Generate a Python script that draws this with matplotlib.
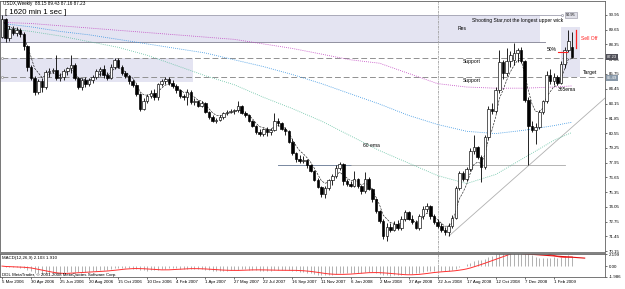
import matplotlib
matplotlib.use('Agg')
import matplotlib.pyplot as plt
import matplotlib.patches as mpatches
import numpy as np
import pandas as pd

plt.rcParams['font.family'] = ['Liberation Sans', 'DejaVu Sans']

# weekly USDX candles, 5 Mar 2006 .. 8 Mar 2009
opens = [89.05, 90.60, 88.90, 89.75, 89.40, 89.65, 89.25, 88.20,
         86.35, 85.40, 84.20, 85.10, 84.60, 85.90, 86.00, 86.10,
         85.40, 85.50, 86.00, 86.30, 86.50, 85.40, 84.60, 85.20,
         84.90, 85.20, 85.50, 86.00, 86.20, 85.70, 85.40, 86.40,
         87.00, 86.40, 85.80, 85.60, 85.10, 84.80, 84.00, 82.70,
         83.40, 83.80, 84.10, 83.70, 84.90, 85.10, 85.30, 85.00,
         84.70, 84.30, 83.80, 83.70, 84.20, 83.30, 83.40, 82.90,
         83.20, 82.40, 82.00, 81.60, 81.70, 82.00, 82.30, 82.40,
         82.50, 82.60, 82.90, 82.30, 82.10, 81.60, 81.20, 80.60,
         80.50, 80.90, 80.60, 80.80, 81.60, 81.40, 80.90, 80.70,
         79.80, 78.80, 78.30, 78.10, 78.20, 77.70, 77.20, 76.40,
         75.80, 75.20, 75.70, 76.40, 76.80, 77.50, 77.80, 76.30,
         76.10, 75.90, 76.50, 75.90, 75.40, 76.50, 75.60, 74.70,
         73.70, 72.80, 71.50, 72.30, 72.00, 72.50, 72.20, 73.00,
         73.60, 73.00, 72.70, 72.20, 73.20, 73.90, 74.10, 73.20,
         72.70, 72.40, 72.00, 71.80, 72.40, 73.10, 75.70, 77.00,
         76.50, 77.40, 79.00, 79.30, 78.40, 77.60, 80.20, 82.70,
         82.50, 84.30, 86.80, 85.80, 86.90, 87.00, 87.60, 87.90,
         86.90, 83.50, 81.20, 80.80, 81.10, 82.40, 83.40, 85.70,
         85.10, 85.50, 85.00, 86.60, 87.90, 88.15]
highs = [90.95, 90.70, 89.95, 90.00, 89.85, 89.80, 89.45, 88.30,
         86.50, 85.60, 85.30, 85.40, 86.10, 86.30, 86.30, 87.40,
         85.80, 86.20, 86.40, 87.40, 86.70, 85.50, 85.40, 85.50,
         85.40, 85.70, 86.20, 86.40, 86.50, 85.90, 86.60, 87.20,
         87.20, 86.50, 86.00, 85.70, 85.30, 84.90, 84.10, 83.60,
         84.00, 84.30, 84.40, 85.00, 85.30, 85.50, 85.50, 85.20,
         84.90, 84.40, 84.00, 84.40, 84.30, 83.60, 83.50, 83.40,
         83.30, 82.50, 82.10, 81.90, 82.10, 82.40, 82.60, 82.70,
         82.70, 83.40, 83.00, 82.50, 82.20, 81.70, 81.30, 80.90,
         81.00, 81.10, 81.00, 82.30, 81.90, 81.50, 81.10, 80.80,
         80.00, 78.90, 78.60, 78.50, 78.30, 77.80, 77.30, 76.60,
         75.90, 75.90, 76.50, 76.90, 77.70, 78.00, 77.90, 76.50,
         76.30, 77.20, 76.60, 76.00, 77.10, 76.70, 75.70, 74.80,
         73.80, 73.00, 72.60, 72.60, 72.80, 72.90, 73.20, 73.80,
         73.70, 73.30, 72.90, 73.40, 74.10, 74.40, 74.20, 73.40,
         73.00, 72.60, 72.30, 72.60, 73.30, 75.90, 77.20, 77.20,
         77.60, 79.20, 80.40, 79.40, 78.60, 80.40, 82.90, 83.20,
         84.60, 87.90, 87.00, 88.00, 87.80, 88.46, 88.00, 88.10,
         87.00, 83.70, 81.60, 81.40, 82.60, 83.50, 86.00, 86.20,
         85.80, 85.70, 86.90, 88.10, 89.62, 89.43]
lows = [88.90, 88.60, 88.70, 89.20, 89.10, 89.00, 87.90, 86.00,
        85.20, 83.90, 84.00, 84.20, 84.40, 85.50, 85.80, 85.20,
        85.10, 85.20, 85.70, 85.80, 85.20, 84.40, 84.30, 84.60,
        84.70, 85.00, 85.30, 85.60, 85.40, 85.20, 85.30, 86.20,
        86.30, 85.70, 85.40, 84.90, 84.60, 83.80, 82.50, 82.60,
        83.20, 83.60, 83.50, 83.50, 84.70, 84.90, 84.80, 84.50,
        84.10, 83.60, 83.50, 83.00, 83.10, 83.00, 82.80, 82.80,
        82.30, 81.80, 81.50, 81.40, 81.60, 81.80, 82.10, 82.30,
        82.20, 82.40, 82.20, 82.00, 81.50, 81.10, 80.50, 80.30,
        80.30, 80.30, 80.40, 80.70, 81.20, 80.80, 80.40, 79.70,
        78.60, 78.00, 77.90, 77.90, 77.50, 77.10, 76.30, 75.70,
        74.90, 74.80, 75.50, 76.00, 76.60, 77.30, 76.00, 75.90,
        75.80, 75.80, 75.70, 75.20, 75.30, 75.50, 74.50, 73.50,
        72.60, 71.20, 71.00, 71.80, 71.90, 72.00, 72.00, 72.80,
        72.90, 72.50, 72.10, 72.00, 73.00, 73.60, 73.00, 72.50,
        72.20, 71.80, 71.60, 71.50, 72.20, 73.00, 75.50, 76.30,
        76.30, 77.20, 78.70, 78.30, 76.20, 77.40, 80.00, 82.20,
        82.30, 84.10, 85.30, 85.60, 86.40, 86.50, 86.80, 86.70,
        83.30, 77.70, 80.60, 79.60, 80.90, 82.20, 83.20, 84.90,
        84.80, 84.80, 84.90, 86.30, 87.70, 87.16]
closes = [90.60, 88.90, 89.75, 89.40, 89.65, 89.25, 88.20, 86.35,
          85.40, 84.20, 85.10, 84.60, 85.90, 86.00, 86.10, 85.40,
          85.50, 86.00, 86.30, 86.50, 85.40, 84.60, 85.20, 84.90,
          85.20, 85.50, 86.00, 86.20, 85.70, 85.40, 86.40, 87.00,
          86.40, 85.80, 85.60, 85.10, 84.80, 84.00, 82.70, 83.40,
          83.80, 84.10, 83.70, 84.90, 85.10, 85.30, 85.00, 84.70,
          84.30, 83.80, 83.70, 84.20, 83.30, 83.40, 82.90, 83.20,
          82.40, 82.00, 81.60, 81.70, 82.00, 82.30, 82.40, 82.50,
          82.60, 82.90, 82.30, 82.10, 81.60, 81.20, 80.60, 80.50,
          80.90, 80.60, 80.80, 81.60, 81.40, 80.90, 80.70, 79.80,
          78.80, 78.30, 78.10, 78.20, 77.70, 77.20, 76.40, 75.80,
          75.20, 75.70, 76.40, 76.80, 77.50, 77.80, 76.30, 76.10,
          75.90, 76.50, 75.90, 75.40, 76.50, 75.60, 74.70, 73.70,
          72.80, 71.50, 72.30, 72.00, 72.50, 72.20, 73.00, 73.60,
          73.00, 72.70, 72.20, 73.20, 73.90, 74.10, 73.20, 72.70,
          72.40, 72.00, 71.80, 72.40, 73.10, 75.70, 77.00, 76.50,
          77.40, 79.00, 79.30, 78.40, 77.60, 80.20, 82.70, 82.50,
          84.30, 86.80, 85.80, 86.90, 87.40, 87.60, 87.90, 86.90,
          83.50, 81.20, 80.80, 81.10, 82.40, 83.40, 85.70, 85.10,
          85.50, 85.00, 86.60, 87.90, 88.70, 87.23]

# moving averages read at every 8th week
ma_weeks = [0, 8, 16, 24, 32, 40, 48, 56, 64, 72, 80, 88, 96, 104,
            112, 120, 128, 136, 144, 152, 157]
ema60 = [89.8, 89.5, 89.1, 88.6, 88.1, 87.4, 86.5, 85.6, 84.8, 83.7,
         82.7, 81.6, 80.3, 79.0, 77.9, 76.8, 76.1, 76.9, 78.4, 79.9, 80.6]
ema_blue = [90.2, 89.9, 89.5, 89.2, 88.8, 88.4, 88.0, 87.6, 87.0, 86.4,
            85.7, 84.9, 84.0, 83.1, 82.1, 81.3, 80.7, 80.5, 80.8, 81.2, 81.5]
ema365 = [90.3, 90.2, 90.0, 89.8, 89.6, 89.4, 89.2, 89.0, 88.8, 88.4,
          88.0, 87.5, 87.0, 86.7, 85.8, 84.9, 84.6, 84.5, 84.5, 84.6, 84.7]

price_ticks = [90.95, 89.65, 88.35, 87.05, 85.75, 84.45, 83.15, 81.85,
               80.55, 79.25, 77.95, 76.65, 75.35, 74.05, 72.75, 71.45, 70.15]
date_labels = ['5 Mar 2006', '30 Apr 2006', '25 Jun 2006', '20 Aug 2006',
               '15 Oct 2006', '10 Dec 2006', '4 Feb 2007', '1 Apr 2007',
               '27 May 2007', '22 Jul 2007', '16 Sep 2007', '11 Nov 2007',
               '6 Jan 2008', '2 Mar 2008', '27 Apr 2008', '22 Jun 2008',
               '17 Aug 2008', '12 Oct 2008', '7 Dec 2008', '1 Feb 2009']

W, H = 625, 289
fig = plt.figure(figsize=(W / 100, H / 100), dpi=100)
ax = fig.add_axes([0, 36 / H, 605 / W, 252 / H])
ax2 = fig.add_axes([0, 12 / H, 605 / W, 23 / H])

x = np.arange(len(closes))
o = np.array(opens); c = np.array(closes)
hi = np.array(highs); lo = np.array(lows)
up = c >= o

# zones and drawn objects (behind the candles)
zone = '#e4e4f2'
ax.add_patch(mpatches.Rectangle((-1, 88.57), 149.2, 2.38, color=zone, lw=0, zorder=0))
ax.add_patch(mpatches.Rectangle((-1, 85.05), 53.6, 2.11, color=zone, lw=0, zorder=0))
ax.add_patch(mpatches.Rectangle((154, 85.49), 5.2, 4.4, color=zone, lw=0, zorder=0))
ax.plot([-1, 154.3], [90.95, 90.95], color='#a0a0b0', lw=0.6, zorder=1)
ax.plot([154.3], [90.95], 'o', ms=1.5, mfc='white', mec='#808090', mew=0.4, zorder=2)
ax.plot([-1, 149.6], [88.57, 88.57], color='#9090a0', lw=0.7, zorder=1)
for lvl in [87.16, 85.49]:
    ax.plot([0, 166.1], [lvl, lvl], color='#909090', lw=0.7, ls=(0, (6, 3)), zorder=1)
    ax.plot([0], [lvl], 'o', ms=1.5, mfc='white', mec='#808080', mew=0.4, zorder=2)
ax.axvline(120, color='#a0a0a0', lw=0.6, ls=(0, (3, 1, 1, 1)), zorder=1)
ax2.axvline(120, color='#a0a0a0', lw=0.6, ls=(0, (3, 1, 1, 1)), zorder=1)
ax.plot([76, 96], [77.75, 77.75], color='#7888a0', lw=0.7, zorder=1)
ax.plot([96, 155.1], [77.75, 77.75], color='#a8a8a8', lw=0.6, zorder=1)
ax.plot([123.1, 166.1], [71.48, 83.63], color='#b0b0b0', lw=0.6, zorder=1)

# moving averages
ax.plot(ma_weeks, ema365, color='#c040c0', lw=0.6, ls=(0, (1, 1.5)), zorder=2)
ax.plot(ma_weeks, ema_blue, color='#3090e0', lw=0.6, ls=(0, (1, 1.5)), zorder=2)
ax.plot(ma_weeks, ema60, color='#60c0a0', lw=0.6, ls=(0, (1, 1.5)), zorder=2)
short_ema = pd.Series(closes).ewm(span=5, adjust=False).mean()
ax.plot(x, short_ema, color='black', lw=0.4, ls=(0, (4, 2)), zorder=2)

# candles
ax.vlines(x, lo, hi, color='black', lw=0.6, zorder=3)
body = np.maximum(np.abs(c - o), 0.04)
ax.bar(x[up], body[up], bottom=np.minimum(o, c)[up], width=0.7,
       color='white', edgecolor='black', lw=0.45, zorder=4)
ax.bar(x[~up], body[~up], bottom=np.minimum(o, c)[~up], width=0.7,
       color='black', edgecolor='black', lw=0.45, zorder=4)

# annotations
fs = 3.6
ax.text(125.6, 89.72, 'Res', fontsize=fs, va='center')
ax.text(129.5, 90.42, 'Shooting Star,not the longest upper wick', fontsize=fs, va='center')
ax.text(127, 86.81, 'Support', fontsize=fs, va='center')
ax.text(127, 85.14, 'Support', fontsize=fs, va='center')
ax.text(160, 85.84, 'Target', fontsize=fs, va='center')
ax.text(159.6, 88.84, 'Sell Off', fontsize=fs, va='center', color='#ff2020')
ax.text(150.2, 87.95, '50%', fontsize=fs, va='center')
ax.plot([153.2, 155.7], [87.69, 87.69], color='#ff2020', lw=0.8, zorder=5)
ax.plot([158.2, 158.2], [88.04, 89.63], color='#ff2020', lw=0.9, zorder=5)
ax.text(153.2, 84.34, '365ema', fontsize=fs, va='center')
ax.text(99.4, 79.41, '60 ema', fontsize=fs, va='center')
ax.text(155.4, 90.95, '90.95', fontsize=2.8, va='center',
        bbox=dict(boxstyle='square,pad=0.2', fc='#e0e0e8', ec='#9090a0', lw=0.4))

ax.set_xlim(-0.55, 166.1)
ax.set_ylim(69.98, 92.18)
ax.yaxis.tick_right()
ax.set_yticks(price_ticks)
ax.set_yticklabels([f'{p:.2f}' for p in price_ticks])
ax.tick_params(axis='y', labelsize=3.2, length=1.5, width=0.4, pad=1)
ax.set_xticks([])
for s in ax.spines.values():
    s.set_color('#606060'); s.set_linewidth(0.6)
ax.spines['bottom'].set_linewidth(1.4)
ax.spines['bottom'].set_color('#808080')

# current price / level boxes on the axis
for lvl, txt, fc in [(87.23, '87.23', '#505058'), (85.40, '85.49', '#8898a8')]:
    ax.text(1.003, lvl, txt, transform=ax.get_yaxis_transform(), fontsize=3.0,
            va='center', ha='left', color='white',
            bbox=dict(boxstyle='square,pad=0.2', fc=fc, ec='none'))

fig.text(3 / W, 1 - 4 / H, 'USDX,Weekly  88.15 89.43 87.16 87.23', fontsize=3.3, va='center')
fig.text(5 / W, 1 - 13 / H, '[ 1620 min 1 sec ]', fontsize=5.6, va='center')

# MACD pane
ema12 = pd.Series(closes).ewm(span=12, adjust=False).mean()
ema26 = pd.Series(closes).ewm(span=26, adjust=False).mean()
macd = ema12 - ema26
signal = macd.rolling(9, min_periods=1).mean()
ax2.vlines(x, 0, macd, color='#b0b0b0', lw=0.7)
ax2.plot(x, signal, color='#ff3030', lw=0.7)
ax2.plot([143.5, 160.5], [2.25, 1.45], color='#e01010', lw=0.8)
ax2.set_xlim(-0.55, 166.1)
ax2.set_ylim(-1.986, 2.199)
ax2.yaxis.tick_right()
ax2.set_yticks([2.199, 0, -1.986])
ax2.set_yticklabels(['2.199', '0.00', '-1.986'])
ax2.tick_params(axis='y', labelsize=3.2, length=1.5, width=0.4, pad=1)
ax2.set_xticks(np.arange(0, 153, 8))
ax2.set_xticklabels(date_labels, ha='left')
ax2.tick_params(axis='x', labelsize=3.2, length=1.5, width=0.4, pad=1)
for s in ax2.spines.values():
    s.set_color('#606060'); s.set_linewidth(0.6)
ax2.text(0.004, 0.82, 'MACD(12,26,9) 2.103 1.910', transform=ax2.transAxes, fontsize=3.2, va='center')
ax2.text(0.004, 0.08, 'DDL MetaTrader, \u00a9 2001-2008 MetaQuotes Software Corp.',
         transform=ax2.transAxes, fontsize=3.2, va='center')

fig.savefig('out.png', dpi=100, facecolor='white')
